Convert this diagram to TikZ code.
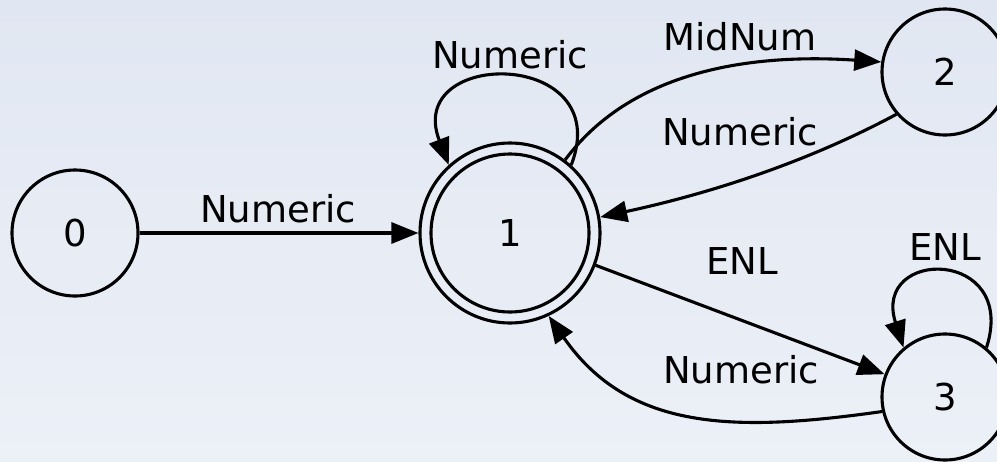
\documentclass[tikz,border=0pt]{standalone}
\usepackage{fontspec}
\setmainfont{DejaVu Sans}
\usetikzlibrary{arrows.meta}
\definecolor{bgtop}{HTML}{E1E7F2}
\definecolor{bgbot}{HTML}{ECF0F7}
\tikzset{
  state/.style={circle, draw, line width=3.1pt, inner sep=0pt, minimum size=126pt},
  edge/.style={line width=3.1pt, -{Triangle[length=27pt,width=21pt]}},
  lbl/.style={anchor=base, inner sep=0pt},
}
\begin{document}
\begin{tikzpicture}[x=1pt,y=1pt,font=\fontsize{37}{44}\selectfont]
\useasboundingbox (0,0) rectangle (997,-461);
\clip (0,0) rectangle (997,-461);
\shade[top color=bgtop, bottom color=bgbot] (0,0) rectangle (997,-461);

\node[state] (n0) at (75,-233) {0};
\node[state, minimum size=180pt] (n1) at (510,-233) {};
\node[state, minimum size=158pt] (n1i) at (n1) {1};
\node[state] (n2) at (945,-72) {2};
\node[state] (n3) at (945,-397) {3};

\draw[edge] (n0) -- (n1);
\draw[edge] (n1.48) .. controls +(45,117) and +(-45,117) .. (n1.132);
\draw[edge] (n1.53) .. controls +(70,94) and +(-120,8) .. (n2.171);
\draw[edge] (n2.221) .. controls +(-97,-52) and +(98,21) .. (n1.10);
\draw[edge] (n1) -- (n3);
\draw[edge] (n3.50) .. controls +(32,100) and +(-32,100) .. (n3.130);
\draw[edge] (n3.193) .. controls +(-148,-21) and +(80,-115) .. (n1.295);

\node[lbl] (l01) at (278,-222) {Numeric};
\node[lbl] (l11) at (510,-68) {Numeric};
\node[lbl] (l12) at (740,-50) {MidNum};
\node[lbl] (l21) at (740,-145) {Numeric};
\node[lbl] (l13) at (742,-274) {ENL};
\node[lbl] (l33) at (945,-260) {ENL};
\node[lbl] (l31) at (741,-383) {Numeric};
\end{tikzpicture}
\end{document}
